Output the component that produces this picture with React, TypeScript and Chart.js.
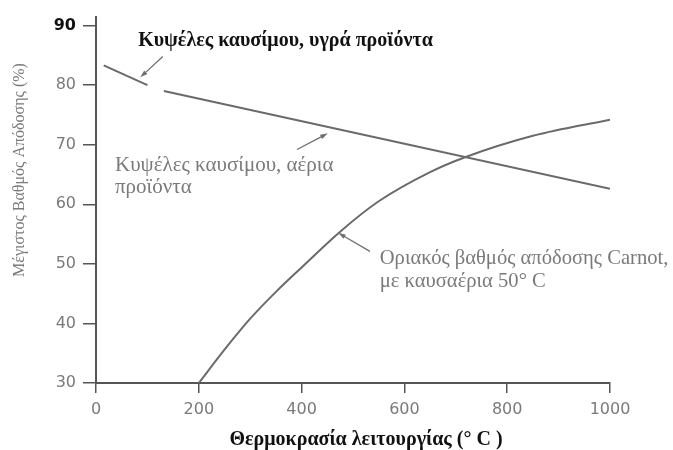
import React, { useEffect, useRef } from 'react';
import { Chart, registerables } from 'chart.js';
Chart.register(...registerables);

// ---- data ----
const liquidTemps = [15, 100];
const liquidEff = [83.3, 80.0];
const gasTemps = [132, 1000];
const gasEff = [79.0, 62.6];
const carnotTemps = [200, 250, 300, 350, 400, 475, 550, 650, 718, 850, 1000];
const carnotEff = [30, 35.6, 40.8, 45.3, 49.4, 55.4, 60.5, 65.4, 67.9, 71.5, 74.2];
const xTicks = [0, 200, 400, 600, 800, 1000];
const yTicks = [30, 40, 50, 60, 70, 80, 90];

const labelLiquid = 'Κυψέλες καυσίμου, υγρά προϊόντα';
const labelGas = ['Κυψέλες καυσίμου, αέρια', 'προϊόντα'];
const labelCarnot = ['Οριακός βαθμός απόδοσης Carnot,', 'με καυσαέρια 50° C'];
const xTitle = 'Θερμοκρασία λειτουργίας (° C )';
const yTitle = 'Μέγιστος Βαθμός Απόδοσης (%)';

const LINE = '#6a6a6a';
const AXIS = '#555555';
const GRAY_TEXT = '#7a7a7a';

const toPts = (xs: number[], ys: number[]) => xs.map((x, i) => ({ x, y: ys[i] }));

function drawArrow(ctx: CanvasRenderingContext2D, x1: number, y1: number, x2: number, y2: number) {
  const ang = Math.atan2(y2 - y1, x2 - x1);
  const head = 8;
  ctx.save();
  ctx.strokeStyle = '#6f6f6f';
  ctx.fillStyle = '#6f6f6f';
  ctx.lineWidth = 1.3;
  ctx.beginPath();
  ctx.moveTo(x1, y1);
  ctx.lineTo(x2 - Math.cos(ang) * head * 0.6, y2 - Math.sin(ang) * head * 0.6);
  ctx.stroke();
  ctx.beginPath();
  ctx.moveTo(x2, y2);
  ctx.lineTo(x2 - head * Math.cos(ang - 0.3), y2 - head * Math.sin(ang - 0.3));
  ctx.lineTo(x2 - head * Math.cos(ang + 0.3), y2 - head * Math.sin(ang + 0.3));
  ctx.closePath();
  ctx.fill();
  ctx.restore();
}

const bgPlugin = {
  id: 'bg',
  beforeDraw(chart: any) {
    const { ctx, width, height } = chart;
    ctx.save();
    ctx.fillStyle = '#ffffff';
    ctx.fillRect(0, 0, width, height);
    ctx.restore();
  },
};

const annotPlugin = {
  id: 'annot',
  afterDraw(chart: any) {
    const { ctx } = chart;
    const xs = chart.scales.x;
    const ys = chart.scales.y;
    const px = (v: number) => xs.getPixelForValue(v);
    const py = (v: number) => ys.getPixelForValue(v);
    ctx.save();
    ctx.textBaseline = 'middle';
    ctx.textAlign = 'left';

    // liquid products label
    ctx.fillStyle = '#111111';
    ctx.font = 'bold 20px "Liberation Serif"';
    ctx.fillText(labelLiquid, px(82), py(87.5));
    drawArrow(ctx, px(130), py(84.8), px(86), py(81.3));

    // gaseous products label
    ctx.fillStyle = GRAY_TEXT;
    ctx.font = '21px "Liberation Serif"';
    ctx.fillText(labelGas[0], px(37), py(66.5));
    ctx.fillText(labelGas[1], px(37), py(62.9));
    drawArrow(ctx, px(391), py(69.2), px(451), py(71.9));

    // Carnot label
    ctx.font = '20.6px "Liberation Serif"';
    ctx.fillText(labelCarnot[0], px(552), py(50.9));
    ctx.fillText(labelCarnot[1], px(552), py(47.1));
    drawArrow(ctx, px(533), py(52.1), px(471), py(55.2));

    // axis titles
    ctx.fillStyle = '#111111';
    ctx.font = 'bold 20px "Liberation Serif"';
    ctx.textAlign = 'center';
    ctx.fillText(xTitle, 366, 440);

    ctx.fillStyle = GRAY_TEXT;
    ctx.font = '16px "Liberation Serif"';
    ctx.translate(20, 170);
    ctx.rotate(-Math.PI / 2);
    ctx.fillText(yTitle, 0, 0);
    ctx.restore();
  },
};

export default function App() {
  const ref = useRef<HTMLCanvasElement | null>(null);
  useEffect(() => {
    if (!ref.current) return;
    const chart = new Chart(ref.current, {
      type: 'scatter',
      data: {
        datasets: [
          { data: toPts(liquidTemps, liquidEff), showLine: true, borderColor: LINE, borderWidth: 2, pointRadius: 0 },
          { data: toPts(gasTemps, gasEff), showLine: true, borderColor: LINE, borderWidth: 2, pointRadius: 0 },
          {
            data: toPts(carnotTemps, carnotEff),
            showLine: true,
            borderColor: LINE,
            borderWidth: 2,
            pointRadius: 0,
            cubicInterpolationMode: 'monotone',
          },
        ],
      },
      options: {
        responsive: false,
        animation: false,
        events: [],
        layout: { padding: { left: 0, right: 63, top: 13, bottom: 0 } },
        plugins: { legend: { display: false }, tooltip: { enabled: false } },
        scales: {
          x: {
            type: 'linear',
            min: 0,
            max: 1000,
            afterFit: (s: any) => { s.height = 67; },
            afterBuildTicks: (s: any) => { s.ticks = xTicks.map((v) => ({ value: v })); },
            grid: { drawOnChartArea: false, drawTicks: true, tickLength: 10, color: AXIS, lineWidth: 1.5 },
            border: { display: true, color: AXIS, width: 2 },
            ticks: {
              color: GRAY_TEXT,
              padding: 7,
              font: { family: '"DejaVu Sans"', size: 16 },
              maxRotation: 0,
              callback: (v: any) => String(v),
            },
          },
          y: {
            type: 'linear',
            min: 30,
            max: 91.5,
            afterFit: (s: any) => { s.width = 96; },
            afterBuildTicks: (s: any) => { s.ticks = yTicks.map((v) => ({ value: v })); },
            grid: { drawOnChartArea: false, drawTicks: true, tickLength: 13, color: AXIS, lineWidth: 1.5 },
            border: { display: true, color: AXIS, width: 2 },
            ticks: {
              padding: 7,
              callback: (v: any) => String(v),
              color: (c: any) => (c.tick && c.tick.value === 90 ? '#111111' : GRAY_TEXT),
              font: (c: any) => ({
                family: '"DejaVu Sans"',
                size: 16,
                weight: c.tick && c.tick.value === 90 ? 'bold' : 'normal',
              }),
            },
          },
        },
      },
      plugins: [bgPlugin, annotPlugin],
    } as any);
    return () => chart.destroy();
  }, []);

  return (
    <div style={{ position: 'fixed', left: 0, top: 0, width: 673, height: 450, background: '#fff' }}>
      <canvas ref={ref} width={673} height={450} style={{ width: 673, height: 450, display: 'block' }} />
    </div>
  );
}
